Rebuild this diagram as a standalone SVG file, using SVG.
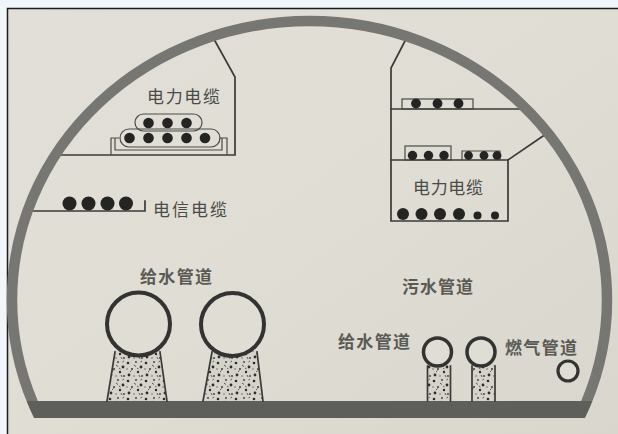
<svg xmlns="http://www.w3.org/2000/svg" width="618" height="434" viewBox="0 0 618 434">
  <style>
    .ln { fill: none; stroke: #3a3a38; stroke-width: 1.7; stroke-linecap: square; }
    .thin { fill: none; stroke: #4a4a46; stroke-width: 1.2; }
    .cab { fill: #242422; }
    .pipe { fill: #e0ddd5; stroke: #333331; }
    .lbl { font-family: "Noto Sans CJK SC", "Noto Sans", sans-serif; font-size: 17px; fill: #4a4a46; }
    .lblb { font-family: "Noto Sans CJK SC", "Noto Sans", sans-serif; font-size: 17px; font-weight: bold; fill: #5a5a55; }
  </style>
  <defs>
    <linearGradient id="bg" x1="0" y1="0" x2="1" y2="1">
      <stop offset="0" stop-color="#e2dfd8"/>
      <stop offset="0.5" stop-color="#e0ddd5"/>
      <stop offset="1" stop-color="#d9d6ce"/>
    </linearGradient>
    <pattern id="speckle" patternUnits="userSpaceOnUse" width="18" height="18">
      <rect width="18" height="18" fill="#d6d3ca"/>
      <circle cx="2" cy="3" r="1.3" fill="#2a2a28"/>
      <circle cx="10" cy="2" r="0.9" fill="#3a3a38"/>
      <circle cx="15" cy="7" r="1.4" fill="#2a2a28"/>
      <circle cx="6" cy="9" r="1" fill="#3a3a38"/>
      <circle cx="12" cy="12" r="1.2" fill="#2a2a28"/>
      <circle cx="3" cy="15" r="1.4" fill="#2e2e2c"/>
      <circle cx="16" cy="16" r="0.9" fill="#3a3a38"/>
      <circle cx="8" cy="16" r="0.7" fill="#555"/>
      <circle cx="1" cy="9" r="0.7" fill="#555"/>
      <path d="M8 5 l2 1.5 M4 12 l1.5 -1.5 M13 15 l1 2 M16 1 l-1.5 1 M11 8 l1.5 1" stroke="#4a4a48" stroke-width="0.9"/>
    </pattern>
    <clipPath id="aboveFloor"><rect x="0" y="0" width="618" height="418"/></clipPath>
    <clipPath id="floorBand"><rect x="0" y="401" width="618" height="17"/></clipPath>
  </defs>

  <!-- page background and frame edge -->
  <rect x="0" y="0" width="618" height="434" fill="#f1f6fa"/>
  <rect x="7" y="8" width="611" height="426" fill="url(#bg)"/>
  <path d="M7.5,434 V8.5 H618" fill="none" stroke="#1c1c1c" stroke-width="1.5"/>

  <!-- internal partitions and shelves -->
  <g id="shelves">
    <path class="ln" d="M215,41 L235,77 V155 H55"/>
    <path class="ln" d="M405,41 L391,68 V221 H508 V160"/>
    <path class="ln" d="M391,109 H525"/>
    <path class="ln" d="M391,160 H508 L546,134"/>
    <path class="ln" d="M28,211 H145 V201"/>
  </g>

  <!-- tunnel lining -->
  <g id="lining">
    <ellipse cx="309.5" cy="300" rx="297.5" ry="279" fill="none" stroke="#767672" stroke-width="10.5" clip-path="url(#aboveFloor)"/>
    <ellipse cx="309.5" cy="300" rx="302.5" ry="284" fill="#5e5e5a" clip-path="url(#floorBand)"/>
  </g>

  <!-- upper left power cable trays -->
  <g id="power-cable-left">
    <path class="thin" d="M111,155 V138 H119 M227,155 V138 H219 M115,138 V150 H222 V138"/>
    <rect class="thin" x="120" y="129" width="100" height="18" rx="9" fill="#e0ddd5"/>
    <rect class="thin" x="135" y="114" width="67" height="17" rx="8.5" fill="#e0ddd5"/>
    <circle class="cab" cx="129.5" cy="138" r="5.3"/>
    <circle class="cab" cx="148.5" cy="138" r="5.3"/>
    <circle class="cab" cx="167.5" cy="138" r="5.3"/>
    <circle class="cab" cx="186.5" cy="138" r="5.3"/>
    <circle class="cab" cx="205" cy="138" r="5.3"/>
    <circle class="cab" cx="148.5" cy="123" r="5.3"/>
    <circle class="cab" cx="167.5" cy="123" r="5.3"/>
    <circle class="cab" cx="186.5" cy="123" r="5.3"/>
    <text class="lbl" x="147" y="103" textLength="73">电力电缆</text>
  </g>

  <!-- telecom cables -->
  <g id="telecom-cable">
    <circle class="cab" cx="69.5" cy="203.5" r="7"/>
    <circle class="cab" cx="88.5" cy="203.5" r="7"/>
    <circle class="cab" cx="107.5" cy="203.5" r="7"/>
    <circle class="cab" cx="126" cy="203.5" r="7"/>
    <text class="lbl" x="153" y="216" textLength="74">电信电缆</text>
  </g>

  <!-- upper right power cable shelves -->
  <g id="power-cable-right">
    <rect class="thin" x="402" y="99" width="71" height="10"/>
    <circle class="cab" cx="416" cy="103.5" r="4.9"/>
    <circle class="cab" cx="437.5" cy="103.5" r="4.9"/>
    <circle class="cab" cx="458.5" cy="103.5" r="4.9"/>
    <rect class="thin" x="405" y="146" width="46" height="14"/>
    <path class="thin" d="M462,160 V151 H500 V160" stroke="#7a7a74"/>
    <circle class="cab" cx="412.5" cy="155.5" r="4.7"/>
    <circle class="cab" cx="428.5" cy="155.5" r="4.7"/>
    <circle class="cab" cx="444" cy="155.5" r="4.7"/>
    <circle class="cab" cx="468.5" cy="155.5" r="4.4"/>
    <circle class="cab" cx="484" cy="155.5" r="4.4"/>
    <circle class="cab" cx="497" cy="155.5" r="4.4"/>
    <circle class="cab" cx="403" cy="214" r="6"/>
    <circle class="cab" cx="421.5" cy="214" r="6"/>
    <circle class="cab" cx="440" cy="214" r="6"/>
    <circle class="cab" cx="459" cy="214" r="6"/>
    <circle class="cab" cx="477.5" cy="215.5" r="4"/>
    <circle class="cab" cx="495" cy="215.5" r="4"/>
    <text class="lbl" x="413" y="194" textLength="70">电力电缆</text>
  </g>

  <!-- large water supply pipes -->
  <g id="water-pipes-left">
    <polygon points="115,350 160,350 167,401 107,401" fill="url(#speckle)"/>
    <path class="ln" d="M115,352 L107,401 M160,352 L167,401" stroke-width="1.5"/>
    <polygon points="212,350 257,350 263,401 203,401" fill="url(#speckle)"/>
    <path class="ln" d="M212,352 L203,401 M257,352 L263,401" stroke-width="1.5"/>
    <circle class="pipe" cx="138.5" cy="324" r="31.5" stroke-width="4"/>
    <circle class="pipe" cx="232.5" cy="324.5" r="31.5" stroke-width="4"/>
    <text class="lblb" x="140" y="283" textLength="72">给水管道</text>
  </g>

  <!-- sewage pipe label -->
  <g id="sewage-pipe">
    <text class="lblb" x="402" y="293" textLength="71">污水管道</text>
  </g>

  <!-- small water supply pipes -->
  <g id="water-pipes-right">
    <rect x="427.5" y="364" width="23" height="37" fill="url(#speckle)"/>
    <path class="ln" d="M427.5,366 V401 M450.5,366 V401" stroke-width="1.3"/>
    <rect x="472" y="364" width="23" height="37" fill="url(#speckle)"/>
    <path class="ln" d="M472,366 V401 M495,366 V401" stroke-width="1.3"/>
    <circle class="pipe" cx="437.5" cy="352" r="14" stroke-width="3.5"/>
    <circle class="pipe" cx="481" cy="352" r="14" stroke-width="3.5"/>
    <text class="lblb" x="338" y="348" textLength="72">给水管道</text>
  </g>

  <!-- gas pipe -->
  <g id="gas-pipe">
    <circle class="pipe" cx="568" cy="371" r="10" stroke-width="3.2"/>
    <text class="lblb" x="505" y="354" textLength="72">燃气管道</text>
  </g>
</svg>
